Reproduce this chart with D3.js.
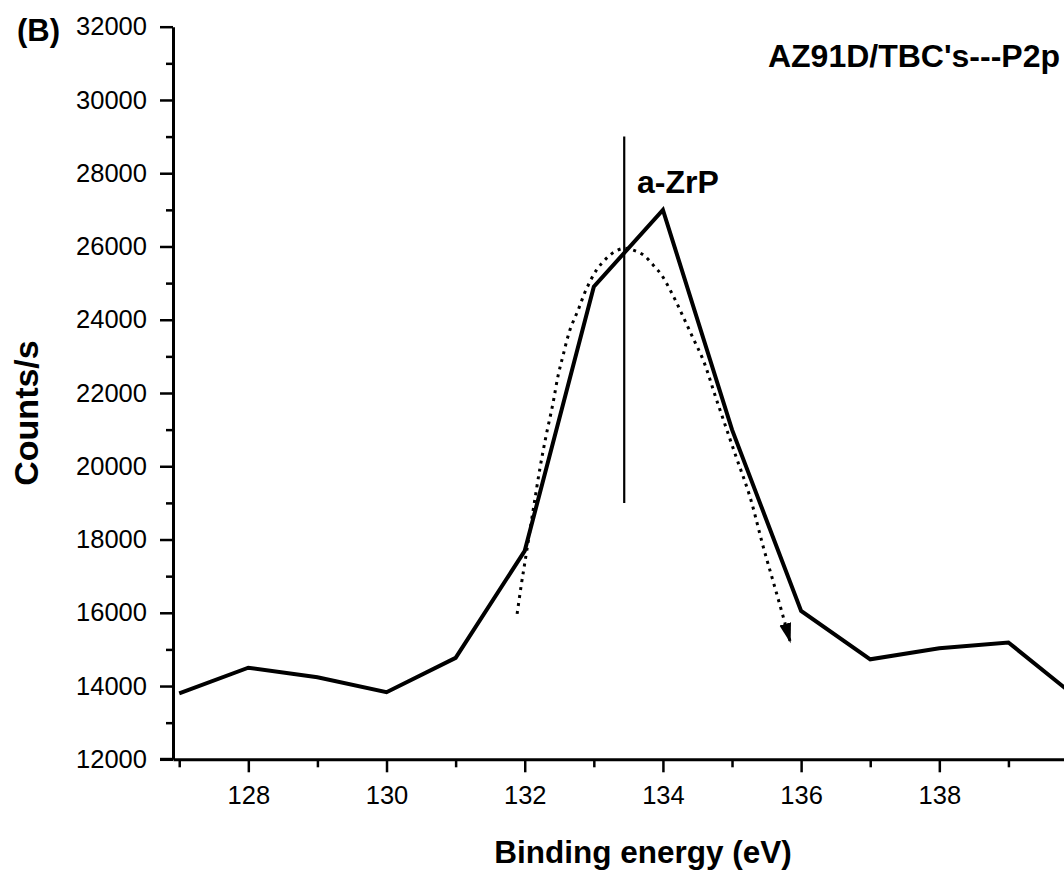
<!DOCTYPE html>
<html>
<head>
<meta charset="utf-8">
<script src="https://cdn.jsdelivr.net/npm/d3@7"></script>
<style>
  html, body { margin: 0; padding: 0; background: #fff; }
  svg { display: block; }
  text { font-family: "Liberation Sans", Arial, sans-serif; fill: #000; }
</style>
</head>
<body>
<svg id="chart" width="1064" height="873"></svg>
<script>
// P2p spectrum of the AZ91D/TBC's coating
const energy = [127, 128, 129, 130, 131, 132, 133, 134, 135, 136, 137, 138, 139, 140];
const counts = [13800, 14500, 14240, 13830, 14770, 17690, 24900, 27000, 21000, 16050, 14730, 15030, 15190, 13670];

// Hand-drawn guide curve around the a-ZrP peak (ends in an arrow)
const guideEnergy = [131.89, 131.955, 132.003, 132.123, 132.22, 132.307, 132.404, 132.485, 132.557, 132.654, 132.774, 132.886, 133.04, 133.185, 133.305, 133.436, 133.57, 133.715, 133.86, 133.981, 134.149, 134.294, 134.438, 134.583, 134.777, 135.042, 135.259, 135.452, 135.645, 135.848];
const guideCounts = [15970, 16820, 17380, 18810, 19940, 20810, 21670, 22490, 23040, 23720, 24270, 24810, 25360, 25680, 25860, 25950, 25900, 25770, 25490, 25220, 24650, 24080, 23490, 22900, 21810, 20350, 19170, 17800, 16530, 15170];

// Peak position marker
const markerEnergy = [133.44, 133.44];
const markerCounts = [19000, 29000];

// Axes
const xDomain = [126.91, 140.1];
const yDomain = [12000, 32000];
const xTickLabels = [128, 130, 132, 134, 136, 138];
const xMinorTicks = [127, 129, 131, 133, 135, 137, 139];
const yTickLabels = [12000, 14000, 16000, 18000, 20000, 22000, 24000, 26000, 28000, 30000, 32000];
const yMinorTicks = [13000, 15000, 17000, 19000, 21000, 23000, 25000, 27000, 29000, 31000];

const panelLabel = "(B)";
const titleText = "AZ91D/TBC's---P2p";
const peakLabel = "a-ZrP";
const xTitle = "Binding energy (eV)";
const yTitle = "Counts/s";

const svg = d3.select("#chart");
const plotLeft = 173, plotTop = 26.7, plotBottom = 759.3;
const pxPerEv = 69.1;

const x = d3.scaleLinear().domain(xDomain).range([plotLeft, plotLeft + (xDomain[1] - xDomain[0]) * pxPerEv]);
const y = d3.scaleLinear().domain(yDomain).range([plotBottom, plotTop]);

// y axis
svg.append("g").attr("transform", `translate(${plotLeft},0)`)
  .call(d3.axisLeft(y).tickValues(yTickLabels).tickSize(13).tickSizeOuter(0).tickPadding(13)
    .tickFormat(d3.format("d")));
svg.append("g").attr("transform", `translate(${plotLeft},0)`)
  .call(d3.axisLeft(y).tickValues(yMinorTicks).tickSize(7).tickSizeOuter(0).tickFormat(""))
  .select(".domain").remove();

// x axis
svg.append("g").attr("transform", `translate(0,${plotBottom})`)
  .call(d3.axisBottom(x).tickValues(xTickLabels).tickSize(13).tickSizeOuter(0).tickPadding(14)
    .tickFormat(d3.format("d")));
svg.append("g").attr("transform", `translate(0,${plotBottom})`)
  .call(d3.axisBottom(x).tickValues(xMinorTicks).tickSize(8).tickSizeOuter(0).tickFormat(""))
  .select(".domain").remove();

svg.selectAll(".domain").attr("stroke", "#000").attr("stroke-width", 3);
svg.selectAll(".tick line").attr("stroke", "#000").attr("stroke-width", 2.5);
svg.selectAll(".tick text").attr("font-size", 25.5).attr("font-family", "Liberation Sans, Arial, sans-serif").attr("fill", "#000");

// extend x axis line to the 12000 tick on the left
svg.append("line")
  .attr("x1", plotLeft - 13).attr("x2", plotLeft)
  .attr("y1", plotBottom).attr("y2", plotBottom)
  .attr("stroke", "#000").attr("stroke-width", 3);

// peak marker line
svg.append("line")
  .attr("x1", x(markerEnergy[0])).attr("x2", x(markerEnergy[1]))
  .attr("y1", y(markerCounts[0])).attr("y2", y(markerCounts[1]))
  .attr("stroke", "#000").attr("stroke-width", 2.2);

// arrow head for the guide curve
svg.append("defs").append("marker")
  .attr("id", "arrow")
  .attr("markerUnits", "userSpaceOnUse")
  .attr("viewBox", "0 -7 22 14")
  .attr("markerWidth", 22).attr("markerHeight", 14)
  .attr("refX", 20).attr("refY", 0)
  .attr("orient", "auto")
  .append("path").attr("d", "M0,-6L20,0L0,6Z").attr("fill", "#000");

const guidePts = guideEnergy.map((e, i) => [x(e), y(guideCounts[i])]);
svg.append("path")
  .attr("d", d3.line().curve(d3.curveCatmullRom)(guidePts))
  .attr("fill", "none")
  .attr("stroke", "#000")
  .attr("stroke-width", 3)
  .attr("stroke-dasharray", "3,5")
  .attr("marker-end", "url(#arrow)");

// spectrum
const specLine = d3.line().x((d, i) => x(energy[i])).y(d => y(d));
svg.append("path")
  .attr("d", specLine(counts))
  .attr("fill", "none")
  .attr("stroke", "#000")
  .attr("stroke-width", 4)
  .attr("stroke-linejoin", "miter");

// labels
svg.append("text").attr("x", 17).attr("y", 41).attr("font-size", 31).attr("font-weight", "bold").text(panelLabel);
svg.append("text").attr("x", 1060).attr("y", 67).attr("text-anchor", "end").attr("font-size", 32).attr("font-weight", "bold").text(titleText);
svg.append("text").attr("x", 637).attr("y", 193).attr("font-size", 32).attr("font-weight", "bold").text(peakLabel);
svg.append("text").attr("x", 643).attr("y", 863).attr("text-anchor", "middle").attr("font-size", 31.5).attr("font-weight", "bold").text(xTitle);
svg.append("text").attr("transform", "translate(38,413) rotate(-90)").attr("text-anchor", "middle").attr("font-size", 34).attr("font-weight", "bold").text(yTitle);
</script>
</body>
</html>
